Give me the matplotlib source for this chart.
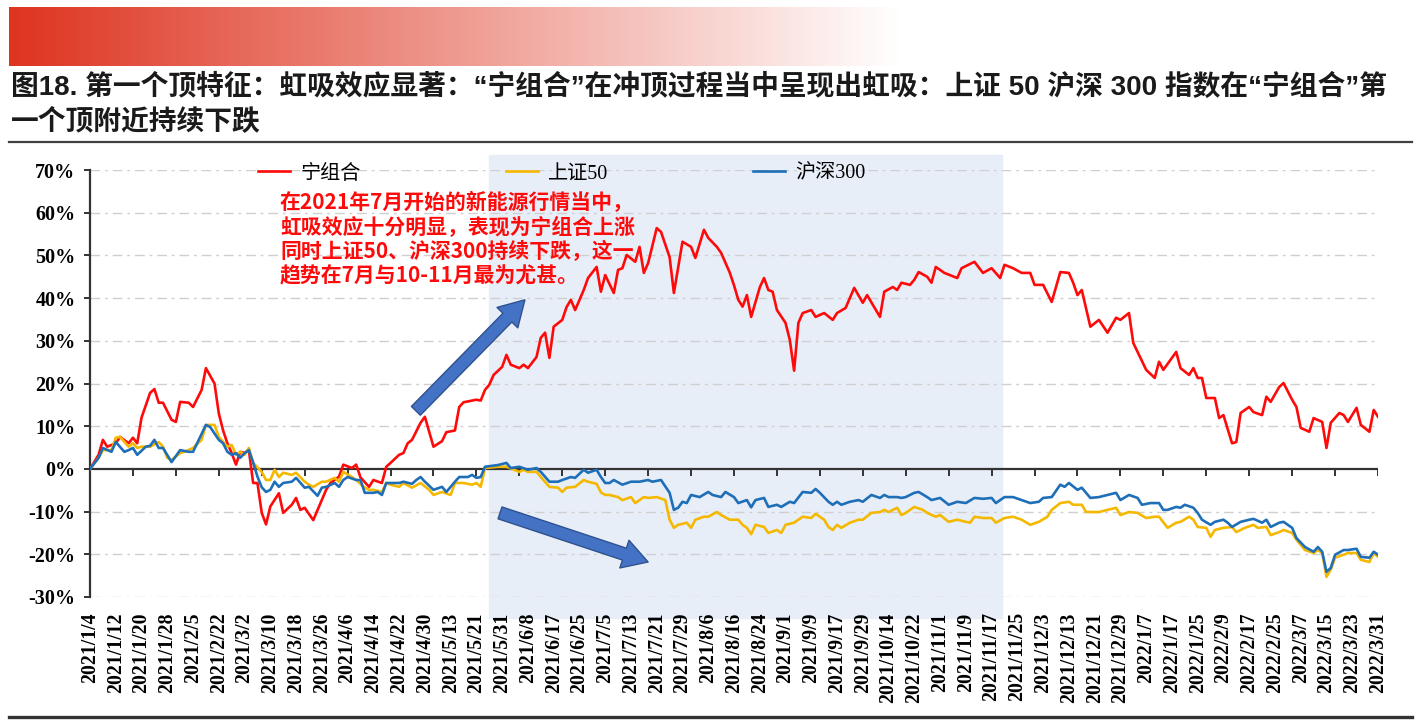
import numpy as np
import matplotlib
matplotlib.use("Agg")
import matplotlib.pyplot as plt
from matplotlib.lines import Line2D
from matplotlib.ticker import FuncFormatter

# trading-day index (0 = 2021/1/4, 300 = 2022/3/31) and cumulative return in %
red_day = [0, 2, 3, 4, 6, 7, 9, 10, 11, 12, 14, 15, 16, 17, 19, 20, 21, 23, 24, 26,
           27, 29, 30, 31, 32, 33, 34, 35, 36, 37, 38, 39, 40, 41, 42, 44, 45, 47, 48, 49,
           50, 52, 54, 55, 56, 58, 59, 61, 62, 63, 65, 66, 68, 69, 70, 72, 73, 74, 75, 77,
           78, 80, 82, 83, 85, 86, 87, 90, 91, 92, 93, 94, 96, 97, 98, 100, 101, 102, 104, 105,
           106, 107, 108, 110, 111, 112, 113, 115, 116, 118, 119, 120, 122, 123, 124, 125, 127, 128, 129, 130,
           132, 133, 135, 136, 138, 140, 141, 143, 144, 146, 147, 149, 150, 151, 152, 153, 154, 156, 157, 158,
           159, 160, 162, 163, 164, 165, 166, 168, 169, 171, 173, 174, 176, 178, 180, 181, 184, 185, 187, 188,
           189, 191, 192, 193, 195, 196, 197, 199, 202, 203, 206, 208, 210, 212, 213, 215, 217, 219, 220, 222,
           224, 226, 228, 229, 230, 231, 233, 235, 237, 239, 240, 242, 243, 246, 248, 249, 250, 253, 254, 256,
           257, 258, 259, 260, 262, 263, 264, 266, 267, 268, 270, 271, 273, 274, 275, 277, 278, 280, 281, 282,
           284, 285, 287, 288, 289, 291, 292, 293, 295, 296, 298, 299, 300]
red_val = [0, 3.3, 6.8, 5.2, 6, 7.5, 6, 7.3, 6, 12, 17.8, 18.7, 15.5, 15.5, 11.5, 11, 15.7, 15.5, 14.5, 18.5,
           23.6, 20, 13, 9, 6, 3.7, 1, 4, 3.7, 4.4, -3.3, -3.3, -10.3, -13, -8.8, -5.7, -10.3, -8.4, -6.8, -9.6,
           -9.1, -12, -7.3, -4.9, -3.3, -1.8, 1, 0.2, 1, -2, -4.2, -2.6, -3.3, 0.5, 1.4, 3.3, 3.7, 6, 6.8, 10.8,
           12.2, 5.2, 6.5, 8.6, 9, 14.5, 15.6, 16.2, 16, 18.5, 19.7, 22, 23.9, 26.7, 24.4, 23.6, 24.4, 23.6, 26.2, 30.7,
           31.9, 26, 33.3, 34.9, 37.9, 39.6, 37.2, 41.9, 44.7, 47.3, 41.5, 45.4, 41.2, 46.6, 47, 50.1, 48.5, 52, 45.9, 48.2,
           56.4, 55.5, 49.6, 41.2, 53.2, 52, 49.4, 56, 54.1, 52, 50.6, 46, 43, 39.6, 38, 40.7, 35.6, 42.5, 44.7, 41.9,
           41.5, 37.2, 34.2, 30.2, 23, 34.2, 36.5, 37.2, 35.6, 36.5, 34.9, 36.5, 37.7, 42.4, 38.9, 40.7, 35.6, 41.5, 42.6, 41.9,
           43.6, 43.1, 44.3, 46.1, 45, 43.6, 47.3, 45.9, 44.7, 47, 48.5, 45.9, 47, 44.7, 47.8, 47, 45.9, 45.9, 43.1, 43.1,
           39.1, 46.1, 45.9, 43.6, 40.7, 41.9, 33.3, 34.9, 31.9, 35.4, 34.9, 36.5, 29.5, 23.2, 21.3, 25.1, 23.2, 27.4, 23.6, 22,
           23.6, 21.3, 21.3, 16.6, 16.6, 11.9, 12.6, 6, 6.3, 13.1, 14.5, 13.3, 12.6, 16.9, 15.7, 19.2, 20.1, 16.2, 14.5, 9.6,
           8.7, 11.9, 11, 4.9, 10.8, 13.1, 12.6, 11, 14.3, 10.3, 8.7, 13.8, 12.2]

yellow_day = [0, 2, 3, 5, 6, 7, 9, 10, 11, 12, 14, 16, 17, 18, 19, 21, 22, 24, 26, 27,
              29, 30, 32, 33, 34, 35, 36, 37, 38, 40, 41, 42, 43, 44, 45, 47, 48, 50, 51, 52,
              54, 55, 57, 58, 59, 61, 62, 64, 65, 66, 68, 69, 70, 72, 73, 75, 77, 79, 80, 82,
              84, 85, 87, 89, 90, 91, 92, 95, 97, 100, 101, 102, 104, 105, 107, 109, 110, 111, 113, 115,
              116, 118, 119, 120, 121, 123, 124, 126, 127, 129, 130, 132, 134, 135, 136, 137, 139, 140, 141, 143,
              144, 146, 147, 149, 151, 152, 153, 154, 155, 157, 158, 160, 161, 162, 164, 166, 168, 169, 171, 172,
              173, 174, 175, 177, 179, 180, 182, 184, 185, 186, 188, 189, 190, 192, 194, 195, 197, 198, 200, 202,
              204, 205, 206, 208, 210, 211, 213, 215, 217, 219, 221, 223, 224, 226, 228, 229, 231, 232, 235, 237,
              239, 240, 242, 244, 246, 248, 249, 251, 253, 254, 256, 257, 258, 260, 261, 262, 264, 266, 267, 269,
              271, 272, 274, 275, 277, 278, 280, 281, 283, 285, 286, 287, 288, 289, 290, 292, 293, 295, 296, 298,
              299, 300]
yellow_val = [0, 2.6, 4.4, 4.4, 7.3, 7.5, 5.2, 6, 4.9, 5.2, 5.2, 6.3, 5.2, 2.6, 2.1, 3.7, 4, 4.9, 6.8, 10.3,
              10.3, 7.5, 5.2, 5.6, 3.3, 4, 3.3, 4.9, 1.4, -0.7, -2.6, -2.6, -0.2, -1.9, -0.9, -1.4, -0.9, -3, -3.7, -4.2,
              -3, -3, -2.1, -3, -0.7, -1.9, -2.6, -4.4, -4.9, -4.9, -5.4, -3.3, -3.7, -4.2, -3.3, -4.4, -3.3, -4.9, -6.1, -5.4,
              -6.1, -3.3, -3.3, -3.7, -3.3, -4.2, 0.2, 0.5, 0.5, -0.7, -0.2, -0.7, -0.7, -1.9, -4.2, -4.4, -5.4, -4.4, -4.2, -2.6,
              -3, -3.5, -5.5, -6.1, -6.1, -6.6, -7.3, -6.6, -8, -6.6, -6.8, -6.6, -7.3, -11.9, -13.8, -13.1, -12.6, -13.8, -11.9, -11.2,
              -11.2, -10.1, -10.8, -11.9, -11.9, -13.1, -13.8, -15.3, -13.1, -13.6, -15, -14.3, -15, -13.1, -12.6, -11.2, -11.5, -10.5, -11.9, -13.6,
              -14.3, -13.1, -13.8, -12.6, -11.9, -11.9, -10.3, -10.1, -9.6, -10.1, -9.1, -10.8, -10.3, -8.9, -9.6, -10.3, -11.2, -10.8, -12.4, -11.9,
              -12.4, -12.6, -11.2, -11.5, -11.5, -12.6, -11.5, -11.2, -11.9, -13.1, -12.4, -11.2, -9.6, -8, -7.7, -8.4, -8.4, -10.1, -10.1, -9.6,
              -9.1, -10.8, -10.1, -10.3, -11.5, -11.2, -11.2, -13.8, -12.6, -12.4, -11.2, -11.9, -13.6, -13.8, -15.9, -14.3, -13.8, -13.6, -14.8, -13.8,
              -13.1, -13.8, -13.6, -15.5, -14.8, -14.3, -15, -16.6, -19, -19.7, -19, -19.7, -25.3, -23.6, -20.8, -20.1, -19.7, -19.7, -21.3, -21.8,
              -19.7, -20.6]

blue_day = [0, 2, 3, 5, 6, 8, 9, 10, 11, 13, 14, 15, 16, 17, 19, 21, 23, 24, 27, 28,
            30, 31, 32, 33, 34, 35, 36, 37, 38, 39, 40, 41, 42, 43, 44, 45, 47, 48, 50, 51,
            53, 54, 55, 57, 58, 59, 60, 62, 63, 64, 66, 67, 68, 69, 72, 73, 75, 76, 77, 78,
            80, 82, 83, 85, 86, 88, 89, 90, 91, 92, 95, 97, 98, 100, 102, 104, 105, 107, 109, 110,
            112, 113, 115, 116, 118, 119, 120, 121, 122, 124, 126, 128, 130, 131, 133, 135, 136, 137, 138, 139,
            140, 142, 144, 145, 147, 148, 150, 151, 153, 154, 155, 157, 158, 160, 161, 163, 164, 166, 168, 169,
            170, 172, 173, 174, 175, 177, 179, 180, 182, 184, 185, 186, 188, 189, 190, 192, 193, 195, 196, 198,
            200, 202, 204, 206, 208, 210, 211, 213, 215, 217, 219, 221, 222, 224, 226, 227, 228, 230, 231, 233,
            235, 237, 239, 240, 242, 244, 245, 247, 249, 250, 251, 253, 254, 255, 257, 258, 259, 261, 262, 264,
            265, 266, 268, 270, 271, 273, 274, 275, 277, 278, 280, 281, 283, 285, 286, 287, 288, 289, 290, 292,
            293, 295, 296, 298, 299, 300]
blue_val = [0, 2.6, 4.9, 4, 6.3, 4, 4.4, 4.9, 3.3, 5.2, 5.4, 6.8, 4.9, 4.9, 1.6, 4.4, 4, 4, 10.3, 9.8,
            6.8, 6, 4, 3.3, 3.7, 2.6, 3.7, 4.4, 1.5, -1.8, -4.3, -5.4, -4.9, -3, -4.2, -3.3, -3, -2.1, -4.4, -4.2,
            -6.3, -4.4, -4.2, -3.3, -4.2, -2.6, -1.9, -2.6, -2.6, -5.6, -5.6, -5.4, -6.1, -3.3, -3.3, -3, -3.5, -2.6, -1.9, -3,
            -4.9, -4.2, -5.4, -3, -1.9, -1.9, -1.4, -2.1, -1.9, 0.5, 0.9, 1.4, 0.2, 0.5, -0.2, 0.2, -0.7, -3, -3, -2.6,
            -1.9, -2.1, -0.2, -0.9, -0.2, -1.9, -3.3, -3.3, -2.6, -3.7, -3, -3, -2.6, -3, -2.6, -5.6, -9.6, -9.1, -7.7, -8,
            -6.1, -6.6, -5.4, -6.1, -6.6, -5.4, -6.6, -8, -7.3, -9, -7.3, -6.8, -8.9, -8.4, -8.9, -7.7, -8, -5.4, -5.6, -4.7,
            -5.6, -7.7, -8.4, -7.7, -8.4, -7.7, -7.3, -7.7, -6.1, -6.8, -6.1, -6.6, -6.6, -6.8, -6.6, -5.6, -5.4, -6.6, -7.3, -6.8,
            -8.4, -7.7, -8, -6.8, -7, -6.8, -8, -6.6, -6.6, -7.3, -8, -7.7, -6.8, -6.6, -3.7, -4.2, -3.3, -4.9, -4.4, -6.8,
            -6.6, -6.1, -5.6, -7.3, -6.1, -6.8, -8.4, -8, -8, -9.6, -9.6, -8.9, -9.1, -8.4, -9.1, -10.3, -11.9, -13.1, -12.4, -11.9,
            -12.6, -13.6, -12.4, -11.9, -11.7, -12.6, -11.9, -13.6, -12.6, -12.4, -13.8, -16.2, -18.3, -19.4, -18.3, -19.4, -24.1, -23.2, -20.1, -19,
            -19, -18.7, -20.6, -20.8, -19.4, -20.1]

date_labels = ["2021/1/4", "2021/1/12", "2021/1/20", "2021/1/28", "2021/2/5", "2021/2/22",
               "2021/3/2", "2021/3/10", "2021/3/18", "2021/3/26", "2021/4/6", "2021/4/14",
               "2021/4/22", "2021/4/30", "2021/5/13", "2021/5/21", "2021/5/31", "2021/6/8",
               "2021/6/17", "2021/6/25", "2021/7/5", "2021/7/13", "2021/7/21", "2021/7/29",
               "2021/8/6", "2021/8/16", "2021/8/24", "2021/9/1", "2021/9/9", "2021/9/17",
               "2021/9/29", "2021/10/14", "2021/10/22", "2021/11/1", "2021/11/9", "2021/11/17",
               "2021/11/25", "2021/12/3", "2021/12/13", "2021/12/21", "2021/12/29", "2022/1/7",
               "2022/1/17", "2022/1/25", "2022/2/9", "2022/2/17", "2022/2/25", "2022/3/7",
               "2022/3/15", "2022/3/23", "2022/3/31"]
label_step = 6
tick_step = 10
last_day = 300
shade_span = (93, 212.5)  # highlighted period, trading-day index

series_names = ["宁组合", "上证50", "沪深300"]
series_colors = ["#FF0A0A", "#F5B800", "#1E6FB8"]

title_lines = ["图18. 第一个顶特征：虹吸效应显著：“宁组合”在冲顶过程当中呈现出虹吸：上证 50 沪深 300 指数在“宁组合”第",
               "一个顶附近持续下跌"]
note_lines = ["在2021年7月开始的新能源行情当中，",
              "虹吸效应十分明显，表现为宁组合上涨",
              "同时上证50、沪深300持续下跌，这一",
              "趋势在7月与10-11月最为尤甚。"]

W, H = 1428, 722
fig = plt.figure(figsize=(W / 100, H / 100), dpi=100)
serif_cjk = ["Liberation Serif", "Noto Sans CJK SC"]
sans_cjk = ["Liberation Sans", "Noto Sans CJK SC"]
dark = "#333333"

# red gradient header
hax = fig.add_axes([9 / W, 1 - 66 / H, 891 / W, 59 / H])
t = np.linspace(0, 1, 400)
left = np.array([222, 52, 32]) / 255
grad = left[None, :] * (1 - t[:, None]) + np.ones(3)[None, :] * t[:, None]
hax.imshow(grad[None, :, :], aspect="auto", extent=(0, 1, 0, 1))
hax.axis("off")

for i, line in enumerate(title_lines):
    fig.text(11 / W, 1 - (87 + 36 * i) / H, line, fontsize=20, fontweight="bold",
             family=sans_cjk, color="#1a1a1a", va="center", ha="left")
fig.add_artist(Line2D([9 / W, 1412 / W], [1 - 142 / H] * 2, color="#404040", lw=1.6))
fig.add_artist(Line2D([9 / W, 1412 / W], [1 - 717 / H] * 2, color=dark, lw=2.4))

ax = fig.add_axes([90 / W, 125 / H, 1288 / W, 427 / H])
ax.set_xlim(0, last_day)
ax.set_ylim(-30, 70)

ax.axvspan(*shade_span, ymin=-0.05, ymax=1.035, color="#E8EEF8", zorder=0.1, clip_on=False)

yticks = np.arange(-30, 71, 10)
ax.set_yticks(yticks)
ax.yaxis.set_major_formatter(FuncFormatter(lambda v, p: f"{v:.0f}%"))
# dash-dot grid, except at 0 where the dark zero line sits
for v in yticks:
    if v != 0:
        ax.axhline(v, color="#CFCFCF", lw=1.0, linestyle=(0, (7, 3.5, 2, 3.5)), zorder=0.5)
for s in ["top", "right", "bottom"]:
    ax.spines[s].set_visible(False)
ax.spines["left"].set_color(dark)
ax.spines["left"].set_linewidth(1.6)
ax.tick_params(axis="y", direction="out", length=4.5, width=1.4, color=dark, pad=6,
               labelsize=14.5)
for lab in ax.get_yticklabels():
    lab.set_fontweight("bold")
    lab.set_family(serif_cjk)

ax.set_xticks(np.arange(0, last_day + 1, label_step))
ax.set_xticklabels(date_labels, rotation=90, fontsize=14.2, fontweight="bold", family=serif_cjk)
ax.tick_params(axis="x", length=0, pad=11)

# zero line with its own downward tick marks
ax.axhline(0, color=dark, lw=1.6, zorder=2)
zero_frac = (0 - (-30)) / 100
ax.vlines(np.arange(0, last_day + 1, tick_step), zero_frac - 0.016, zero_frac,
          transform=ax.get_xaxis_transform(), color=dark, lw=1.4, zorder=2)

for day, val, name, col, z in zip([red_day, yellow_day, blue_day],
                                  [red_val, yellow_val, blue_val],
                                  series_names, series_colors, [3, 3.1, 3.2]):
    ax.plot(day, val, color=col, lw=1.9, label=name, zorder=z, solid_joinstyle="round")

leg = ax.legend(loc="center left", bbox_to_anchor=(258 / W, 1 - 174 / H),
                bbox_transform=fig.transFigure, ncol=3, frameon=False,
                handlelength=1.6, handletextpad=0.5, columnspacing=7.2,
                borderpad=0, borderaxespad=0, prop={"family": serif_cjk, "size": 14.5})

for i, line in enumerate(note_lines):
    fig.text(280 / W, 1 - (203 + 24.4 * i) / H, line, fontsize=15, fontweight="bold",
             family=["Noto Sans CJK SC"], color="#FF0A0A", va="center", ha="left")

arrow_kw = dict(arrowstyle="simple,head_length=0.9,head_width=1.05,tail_width=0.45",
                fc="#4472C4", ec="#2F528F", lw=1.0, shrinkA=0, shrinkB=0, mutation_scale=20)
ax.annotate("", xy=(101.3, 39.6), xytext=(75.9, 13.6), arrowprops=arrow_kw, zorder=5)
ax.annotate("", xy=(130.0, -21.8), xytext=(95.5, -10.3), arrowprops=arrow_kw, zorder=5)

fig.savefig("out.png", dpi=100)
